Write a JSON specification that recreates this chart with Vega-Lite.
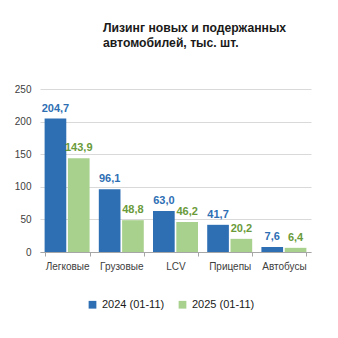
{
  "$schema": "https://vega.github.io/schema/vega-lite/v6.json",
  "width": 271,
  "height": 163,
  "autosize": "none",
  "padding": {"left": 40, "top": 89, "right": 27, "bottom": 86},
  "background": "white",
  "title": {
    "text": ["Лизинг новых и подержанных", "автомобилей, тыс. шт."],
    "anchor": "start",
    "frame": "group",
    "dx": 63,
    "offset": 35,
    "font": "Liberation Sans",
    "fontSize": 12.2,
    "fontWeight": "bold",
    "color": "#1a1a1a",
    "lineHeight": 15
  },
  "data": {
    "values": [
      {"cat": "Легковые", "series": "2024 (01-11)", "value": 204.7},
      {"cat": "Легковые", "series": "2025 (01-11)", "value": 143.9},
      {"cat": "Грузовые", "series": "2024 (01-11)", "value": 96.1},
      {"cat": "Грузовые", "series": "2025 (01-11)", "value": 48.8},
      {"cat": "LCV", "series": "2024 (01-11)", "value": 63.0},
      {"cat": "LCV", "series": "2025 (01-11)", "value": 46.2},
      {"cat": "Прицепы", "series": "2024 (01-11)", "value": 41.7},
      {"cat": "Прицепы", "series": "2025 (01-11)", "value": 20.2},
      {"cat": "Автобусы", "series": "2024 (01-11)", "value": 7.6},
      {"cat": "Автобусы", "series": "2025 (01-11)", "value": 6.4}
    ]
  },
  "encoding": {
    "x": {
      "field": "cat",
      "type": "nominal",
      "sort": null,
      "scale": {"paddingInner": 0.17, "paddingOuter": 0.085},
      "axis": {
        "title": null,
        "labelAngle": 0,
        "tickBand": "extent",
        "domainColor": "#a6a6a6",
        "tickColor": "#a6a6a6",
        "tickSize": 4,
        "labelPadding": 5,
        "labelFont": "Liberation Sans",
        "labelFontSize": 10,
        "labelColor": "#404040"
      }
    },
    "xOffset": {
      "field": "series",
      "type": "nominal",
      "scale": {"paddingInner": 0.07}
    },
    "y": {
      "field": "value",
      "type": "quantitative",
      "scale": {"domain": [0, 250]},
      "axis": {
        "title": null,
        "values": [0, 50, 100, 150, 200, 250],
        "domain": false,
        "ticks": false,
        "labelPadding": 9,
        "gridColor": "#d9d9d9",
        "labelFont": "Liberation Sans",
        "labelFontSize": 10,
        "labelColor": "#404040"
      }
    }
  },
  "layer": [
    {
      "mark": {"type": "bar"},
      "encoding": {
        "color": {
          "field": "series",
          "type": "nominal",
          "scale": {"range": ["#2e6fb4", "#a9d18e"]},
          "legend": {
            "title": null,
            "orient": "none",
            "legendX": 47,
            "legendY": 210,
            "direction": "horizontal",
            "symbolType": "square",
            "symbolSize": 60,
            "symbolStrokeWidth": 0,
            "labelFont": "Liberation Sans",
            "labelFontSize": 11,
            "labelColor": "#1a1a1a",
            "columnPadding": 12
          }
        }
      }
    },
    {
      "mark": {"type": "text", "dy": -10, "font": "Liberation Sans", "fontSize": 11, "fontWeight": "bold"},
      "encoding": {
        "text": {"field": "value", "type": "quantitative", "format": ".1f"},
        "color": {
          "field": "series",
          "type": "nominal",
          "scale": {"range": ["#2e6fb4", "#6a9a3a"]},
          "legend": null
        }
      }
    }
  ],
  "resolve": {"scale": {"color": "independent"}},
  "config": {
    "view": {"stroke": null},
    "locale": {"number": {"decimal": ",", "thousands": " ", "grouping": [3], "currency": ["", ""]}}
  }
}
